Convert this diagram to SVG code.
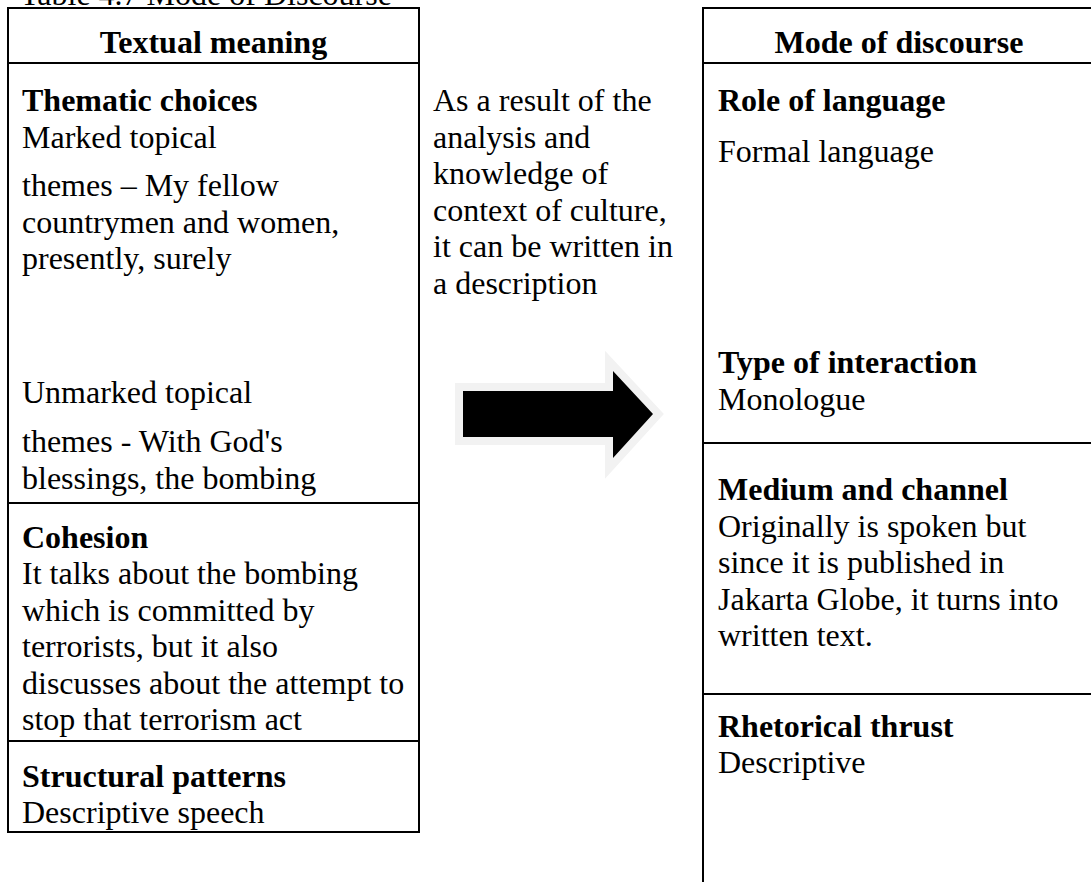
<svg xmlns="http://www.w3.org/2000/svg" width="1091" height="882" viewBox="0 0 1091 882">
<style>
text{font-family:"Liberation Serif","Times New Roman",serif;font-size:32px;fill:#000}
.b{font-weight:bold}
.ln{stroke:#000;stroke-width:2;fill:none}
</style>
<rect width="1091" height="882" fill="#fff"/>
<g id="caption"><text x="20" y="5">Table 4.7 Mode of Discourse</text></g>
<g id="textual-meaning">
<rect class="ln" x="8" y="8" width="411" height="824"/>
<line class="ln" x1="8" y1="63" x2="419" y2="63"/>
<line class="ln" x1="8" y1="503" x2="419" y2="503"/>
<line class="ln" x1="8" y1="741" x2="419" y2="741"/>
<text class="b" x="213.5" y="53" text-anchor="middle">Textual meaning</text>
<text class="b" x="22" y="111">Thematic choices</text>
<text x="22" y="147.5">Marked topical</text>
<text x="22" y="196">themes – My fellow</text>
<text x="22" y="232.5">countrymen and women,</text>
<text x="22" y="269">presently, surely</text>
<text x="22" y="403">Unmarked topical</text>
<text x="22" y="452">themes - With God's</text>
<text x="22" y="488.5">blessings, the bombing</text>
<text class="b" x="22" y="548">Cohesion</text>
<text x="22" y="584">It talks about the bombing</text>
<text x="22" y="621">which is committed by</text>
<text x="22" y="657">terrorists, but it also</text>
<text x="22" y="694">discusses about the attempt to</text>
<text x="22" y="730">stop that terrorism act</text>
<text class="b" x="22" y="787">Structural patterns</text>
<text x="22" y="823">Descriptive speech</text>
</g>
<g id="description">
<text x="433" y="111">As a result of the</text>
<text x="433" y="147.5">analysis and</text>
<text x="433" y="184">knowledge of</text>
<text x="433" y="220.5">context of culture,</text>
<text x="433" y="257">it can be written in</text>
<text x="433" y="293.5">a description</text>
</g>
<g id="connectors">
<polygon points="463,391 613,391 613,371 653,414 613,458 613,437 463,437" fill="#000" stroke="#f2f2f2" stroke-width="16" stroke-linejoin="miter" stroke-miterlimit="10" paint-order="stroke"/>
</g>
<g id="mode-of-discourse">
<line class="ln" x1="703" y1="7" x2="703" y2="882"/>
<line class="ln" x1="702" y1="8" x2="1091" y2="8"/>
<line class="ln" x1="703" y1="63" x2="1091" y2="63"/>
<line class="ln" x1="703" y1="443" x2="1091" y2="443"/>
<line class="ln" x1="703" y1="694" x2="1091" y2="694"/>
<text class="b" x="899" y="53" text-anchor="middle">Mode of discourse</text>
<text class="b" x="718" y="111">Role of language</text>
<text x="718" y="162">Formal language</text>
<text class="b" x="718" y="373">Type of interaction</text>
<text x="718" y="409.5">Monologue</text>
<text class="b" x="718" y="500">Medium and channel</text>
<text x="718" y="537">Originally is spoken but</text>
<text x="718" y="573">since it is published in</text>
<text x="718" y="610">Jakarta Globe, it turns into</text>
<text x="718" y="646">written text.</text>
<text class="b" x="718" y="737">Rhetorical thrust</text>
<text x="718" y="773">Descriptive</text>
</g>
</svg>
